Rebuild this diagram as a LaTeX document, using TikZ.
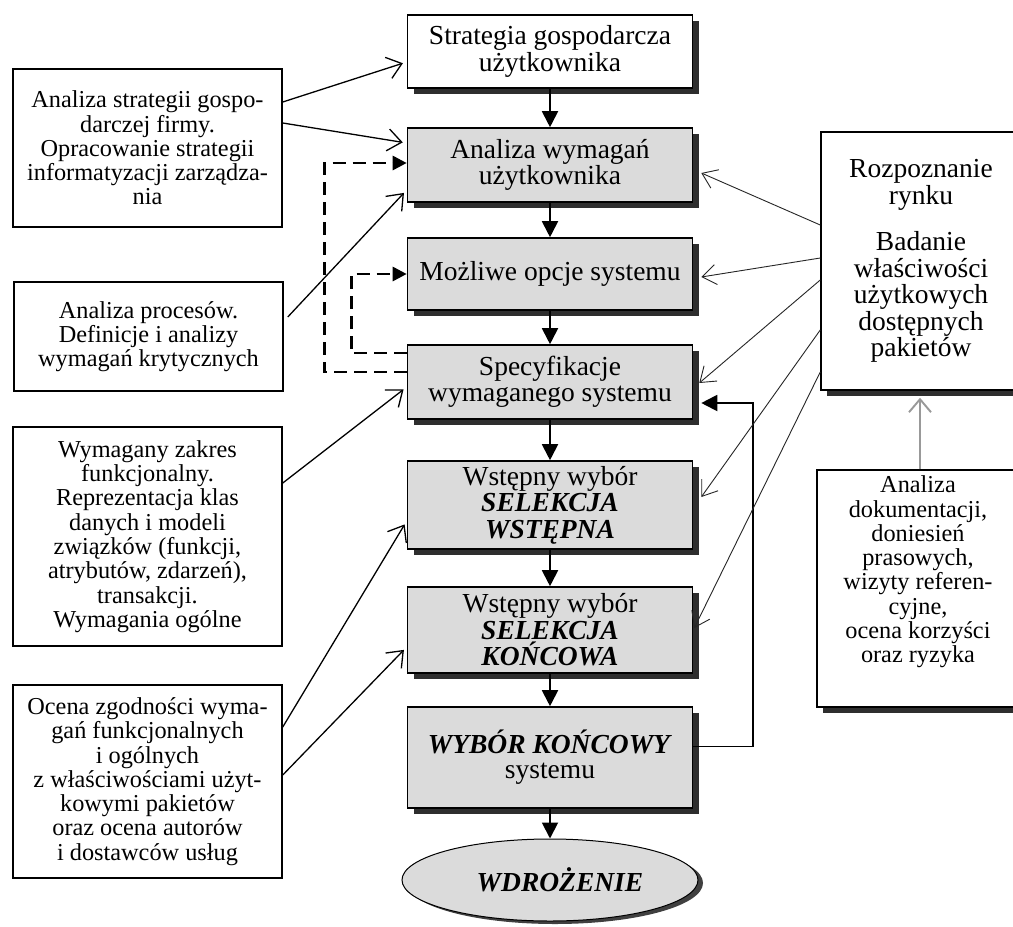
\documentclass[tikz,border=0pt]{standalone}
\usepackage{fontspec}
\setmainfont{Liberation Serif}
\usetikzlibrary{arrows.meta,shadows,shapes.geometric}

\begin{document}
\begin{tikzpicture}[x=1pt,y=-1pt,
  bigtext/.style={font=\fontsize{27.5}{26.5}\selectfont, align=center},
  smalltext/.style={font=\fontsize{24.3}{24.3}\selectfont, align=center},
  shadowed/.style={drop shadow={shadow xshift=6pt,shadow yshift=-6pt,fill=black!82,opacity=1}},
  stage/.style={draw, line width=1.6pt, fill=black!14, minimum width=285pt,
    inner sep=1pt, shadowed, bigtext},
  note/.style={draw, line width=1.5pt, fill=white, minimum width=269pt,
    inner sep=2pt, smalltext},
  flow/.style={line width=1.9pt, -{Triangle[length=16pt,width=16pt]}},
  dashflow/.style={line width=2.8pt, dash pattern=on 13pt off 7pt,
    -{Triangle[length=14pt,width=14pt]}},
  thin/.style={line width=1.3pt, -{Straight Barb[length=14pt,width=22pt]}, shorten >=4pt},
  rthin/.style={line width=0.9pt, draw=black!85, -{Straight Barb[length=14pt,width=20pt]}},
  grayflow/.style={line width=1.9pt, draw=black!40, -{Straight Barb[length=13pt,width=22pt]}}
]
\useasboundingbox (0,0) rectangle (1013,927);
\fill[white] (0,0) rectangle (1013,927);
\clip (0,0) rectangle (1013,927);

% main chain of stages
\node[stage, fill=white, minimum height=73pt] (b1) at (550,51.5) {Strategia gospodarcza\\użytkownika};
\node[stage, minimum height=74pt] (b2) at (550,165) {Analiza wymagań\\użytkownika};
\node[stage, minimum height=72pt] (b3) at (550,274) {Możliwe opcje systemu};
\node[stage, minimum height=74pt] (b4) at (550,382) {Specyfikacje\\wymaganego systemu};
\node[stage, minimum height=88pt] (b5) at (550,505) {Wstępny wybór\\\textbf{\textit{SELEKCJA}}\\\textbf{\textit{WSTĘPNA}}};
\node[stage, minimum height=86pt] (b6) at (550,630) {Wstępny wybór\\\textbf{\textit{SELEKCJA}}\\\textbf{\textit{KOŃCOWA}}};
\node[stage, minimum height=101pt, font=\fontsize{27.5}{25}\selectfont] (b7) at (550,757.5) {\textbf{\textit{WYBÓR KOŃCOWY}}\\systemu};
\node[ellipse, draw, line width=1pt, fill=black!14, minimum width=296pt, minimum height=82pt,
  inner sep=0pt, bigtext,
  drop shadow={shadow xshift=5pt,shadow yshift=-3pt,fill=black!75,opacity=1}] (e) at (550,880)
  {\hspace{20pt}\textbf{\textit{WDROŻENIE}}};

% inputs on the left
\node[note, minimum height=158pt] (l1) at (147.5,148) {Analiza strategii gospo-\\darczej firmy.\\Opracowanie strategii\\informatyzacji zarządza-\\nia};
\node[note, minimum height=109pt] (l2) at (148.5,336.5) {Analiza procesów.\\Definicje i analizy\\wymagań krytycznych};
\node[note, minimum height=219pt] (l3) at (147.5,536.5) {Wymagany zakres\\funkcjonalny.\\Reprezentacja klas\\danych i modeli\\związków (funkcji,\\atrybutów, zdarzeń),\\transakcji.\\Wymagania ogólne};
\node[note, minimum height=193pt] (l4) at (147.5,781.5) {Ocena zgodności wyma-\\gań funkcjonalnych\\i ogólnych\\z właściwościami użyt-\\kowymi pakietów\\oraz ocena autorów\\i dostawców usług};

% market research on the right
\node[note, shadowed, bigtext, minimum width=200pt, minimum height=258pt] (r1) at (921,261)
  {Rozpoznanie\\rynku\\[20pt]Badanie\\właściwości\\użytkowych\\dostępnych\\pakietów};
\node[note, shadowed, minimum width=202pt, minimum height=237pt] (r2) at (918,588.5)
  {Analiza\\dokumentacji,\\doniesień\\prasowych,\\wizyty referen-\\cyjne,\\ocena korzyści\\oraz ryzyka\\[14pt]};

% main flow
\draw[flow] (b1.south) -- (b2.north);
\draw[flow] (b2.south) -- (b3.north);
\draw[flow] (b3.south) -- (b4.north);
\draw[flow] (b4.south) -- (b5.north);
\draw[flow] (b5.south) -- (b6.north);
\draw[flow] (b6.south) -- (b7.north);
\draw[flow] (b7.south) -- (e.north);

% feedback loops
\draw[dashflow] ([shift={(0,-10)}]b4.west) -- ++(-82.5,0) |- ([shift={(0,-2)}]b2.west);
\draw[dashflow] ([shift={(0,-29)}]b4.west) -- ++(-55.5,0) |- (b3.west);
\draw[flow] ([shift={(0,-11)}]b7.east) -- ++(60,0) |- ([shift={(8,21)}]b4.east);

% left inputs
\draw[thin] ([shift={(0,-46)}]l1.east) -- ([shift={(0,10.5)}]b1.west);
\draw[thin] ([shift={(0,-25)}]l1.east) -- ([shift={(0,-22)}]b2.west);
\draw[thin] ([shift={(4,-19.5)}]l2.east) -- ([shift={(0,25)}]b2.west);
\draw[thin] ([shift={(0,-53.5)}]l3.east) -- ([shift={(0,5)}]b4.west);
\draw[thin] ([shift={(0,-54.5)}]l4.east) -- ([shift={(0,16)}]b5.west);
\draw[thin] ([shift={(0,-6.5)}]l4.east) -- ([shift={(0,17)}]b6.west);

% right inputs
\draw[rthin] ([shift={(0,-36)}]r1.west) -- ([shift={(8,8)}]b2.east);
\draw[rthin] ([shift={(0,-3)}]r1.west) -- ([shift={(8,3)}]b3.east);
\draw[rthin] ([shift={(0,19)}]r1.west) -- ([shift={(6,1)}]b4.east);
\draw[rthin] ([shift={(0,69)}]r1.west) -- ([shift={(8,-8)}]b5.east);
\draw[rthin] ([shift={(0,111)}]r1.west) -- ([shift={(1,-2)}]b6.east);
\draw[grayflow] ([shift={(2,0)}]r2.north) -- ([shift={(-1,7)}]r1.south);
\end{tikzpicture}
\end{document}
